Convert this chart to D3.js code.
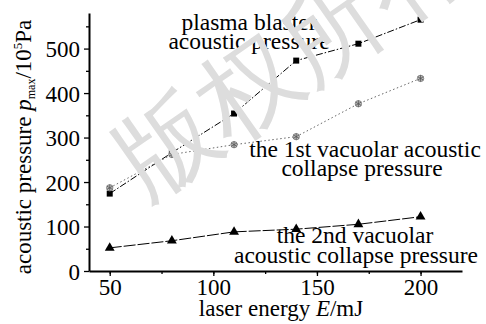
<!DOCTYPE html>
<html>
<head>
<meta charset="utf-8">
<script src="https://cdn.jsdelivr.net/npm/d3@7"></script>
<style>
  body { margin: 0; background: #fff; }
  svg text { font-family: "Liberation Serif", "DejaVu Serif", serif; }
</style>
</head>
<body>
<div id="plot"></div>
<script>
// Chart data
var energy = [50, 80, 110, 140, 170, 200];
var plasmaPressure = [174, 266, 354, 473, 511, 565];
var firstCollapse = [187, 262, 284, 302, 376, 433];
var secondCollapse = [52, 68, 88, 94, 105, 122];
var xTicks = [50, 100, 150, 200];
var yTicks = [0, 100, 200, 300, 400, 500];

var serif = "Liberation Serif, DejaVu Serif, serif";

// SVG area
var svgWidth = 486;
var svgHeight = 324;
var margin = { top: 13, right: 24, bottom: 53, left: 89 };
var chartWidth = svgWidth - margin.left - margin.right;
var chartHeight = svgHeight - margin.top - margin.bottom;

var svg = d3.select("#plot")
  .append("svg")
  .attr("width", svgWidth)
  .attr("height", svgHeight);

var chartGroup = svg.append("g")
  .attr("transform", `translate(${margin.left}, ${margin.top})`);

// Scales
var xScale = d3.scaleLinear().domain([40, 220]).range([0, chartWidth]);
var yScale = d3.scaleLinear().domain([0, 580]).range([chartHeight, 0]);

// Minor ticks first
chartGroup.append("g")
  .attr("transform", `translate(0, ${chartHeight})`)
  .call(d3.axisBottom(xScale).tickValues(d3.range(50, 221, 25)).tickSize(3).tickFormat(""))
  .call(g => g.select(".domain").remove());
chartGroup.append("g")
  .call(d3.axisLeft(yScale).tickValues(d3.range(50, 580, 100)).tickSize(3).tickFormat(""))
  .call(g => g.select(".domain").remove());

// Major axes
var xAxis = chartGroup.append("g")
  .attr("transform", `translate(0, ${chartHeight})`)
  .call(d3.axisBottom(xScale).tickValues(xTicks).tickSize(5).tickSizeOuter(0).tickPadding(3));
var yAxis = chartGroup.append("g")
  .call(d3.axisLeft(yScale).tickValues(yTicks).tickSize(5).tickSizeOuter(0).tickPadding(4));

[xAxis, yAxis].forEach(function (ax) {
  ax.select(".domain").attr("stroke-width", 2);
  ax.selectAll("text")
    .attr("font-family", serif)
    .attr("font-size", 23)
    .attr("fill", "#000");
});
xAxis.selectAll("text").attr("dy", "0.7em");
yAxis.selectAll("text").attr("dy", "0.36em");
chartGroup.selectAll(".tick line").attr("stroke", "#000").attr("stroke-width", 1.3);

// Axis titles
var yLabel = svg.append("text")
  .attr("transform", "rotate(-90)")
  .attr("x", -147)
  .attr("y", 31)
  .attr("text-anchor", "middle")
  .attr("font-family", serif)
  .attr("font-size", 23);
yLabel.append("tspan").text("acoustic pressure ");
yLabel.append("tspan").attr("font-style", "italic").text("p");
yLabel.append("tspan").attr("font-size", 12).attr("dy", 4).text("max");
yLabel.append("tspan").attr("dy", -4).text("/10");
yLabel.append("tspan").attr("font-size", 13).attr("dy", -9).text("5");
yLabel.append("tspan").attr("dy", 9).text("Pa");

var xLabel = svg.append("text")
  .attr("x", 281)
  .attr("y", 316)
  .attr("text-anchor", "middle")
  .attr("font-family", serif)
  .attr("font-size", 23);
xLabel.append("tspan").text("laser energy ");
xLabel.append("tspan").attr("font-style", "italic").text("E");
xLabel.append("tspan").text("/mJ");

// Series annotations
var notes = [
  { x: 249, y: 30, text: "plasma blaster" },
  { x: 249, y: 49, text: "acoustic pressure" },
  { x: 365, y: 157, text: "the 1st vacuolar acoustic" },
  { x: 362, y: 176, text: "collapse pressure" },
  { x: 355, y: 243, text: "the 2nd vacuolar" },
  { x: 356, y: 263, text: "acoustic collapse pressure" }
];
svg.selectAll(".note")
  .data(notes)
  .enter()
  .append("text")
  .attr("class", "note")
  .attr("x", d => d.x)
  .attr("y", d => d.y)
  .attr("text-anchor", "middle")
  .attr("font-family", serif)
  .attr("font-size", 23.5)
  .text(d => d.text);

// Watermark
svg.append("text")
  .attr("transform", "translate(290, 58) rotate(-35)")
  .attr("text-anchor", "middle")
  .attr("dy", "0.35em")
  .attr("font-family", "Noto Sans CJK SC")
  .attr("font-size", 100)
  .attr("fill", "#dddddd")
  .text("版权所有");

// Lines
function drawLine(values, color, dash, width) {
  var line = d3.line()
    .x((d, i) => xScale(energy[i]))
    .y(d => yScale(d));
  chartGroup.append("path")
    .datum(values)
    .attr("fill", "none")
    .attr("stroke", color)
    .attr("stroke-width", width)
    .attr("stroke-dasharray", dash)
    .attr("d", line);
}
drawLine(plasmaPressure, "#000", "7,2,1.5,2", 1);
drawLine(firstCollapse, "#666", "1.5,2.5", 1);
drawLine(secondCollapse, "#000", "12,2", 1);

// Markers
chartGroup.selectAll(".sq")
  .data(plasmaPressure)
  .enter()
  .append("path")
  .attr("class", "sq")
  .attr("transform", (d, i) => `translate(${xScale(energy[i])}, ${yScale(d)})`)
  .attr("d", d3.symbol(d3.symbolSquare, 36))
  .attr("fill", "#000");

var stars = chartGroup.selectAll(".star")
  .data(firstCollapse)
  .enter()
  .append("g")
  .attr("class", "star")
  .attr("transform", (d, i) => `translate(${xScale(energy[i])}, ${yScale(d)})`);
stars.append("circle").attr("r", 3.2).attr("fill", "#bbb").attr("stroke", "#777").attr("stroke-width", 0.8);
stars.append("path").attr("d", d3.symbol(d3.symbolAsterisk, 30)).attr("stroke", "#555").attr("stroke-width", 0.8).attr("fill", "none");

chartGroup.selectAll(".tri")
  .data(secondCollapse)
  .enter()
  .append("path")
  .attr("class", "tri")
  .attr("transform", (d, i) => `translate(${xScale(energy[i])}, ${yScale(d)})`)
  .attr("d", d3.symbol(d3.symbolTriangle, 42))
  .attr("fill", "#000");
</script>
</body>
</html>
